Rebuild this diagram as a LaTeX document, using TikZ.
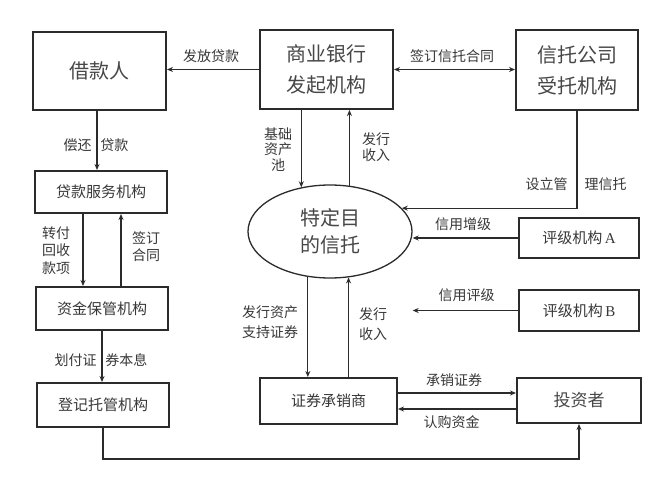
\documentclass[tikz,border=0pt]{standalone}
\usepackage{fontspec}
\setmainfont{Noto Sans CJK SC}
\newfontfamily\lat{Liberation Serif}
\usetikzlibrary{arrows.meta,shapes.geometric}
\definecolor{ink}{HTML}{2B2B2B}
\definecolor{txt}{HTML}{383838}
\definecolor{txtbig}{HTML}{474747}
\begin{document}
\begin{tikzpicture}[x=1pt,y=-1pt,
  >={Stealth[length=6pt,width=5pt]},
  box/.style={draw=ink, line width=2pt, text=txt, inner sep=0pt, align=center},
  arr/.style={draw=ink, line width=1.2pt, ->},
  arr2/.style={draw=ink, line width=1.2pt, <->},
  lbl/.style={text=txt, font=\fontsize{14}{16}\selectfont, align=center, inner sep=0pt},
  big/.style={font=\fontsize{20}{31}\selectfont, text=txtbig},
  mid/.style={font=\fontsize{15}{18}\selectfont}]
\useasboundingbox (0,0) rectangle (668,478);
\fill[white] (0,0) rectangle (668,478);
% helper coordinates
\coordinate (x83) at (83,0);
\coordinate (x121) at (121,0);
\coordinate (y393) at (0,393);
\coordinate (y409) at (0,409);
\coordinate (y459) at (0,459);
% boxes
\node[box,big,minimum width=133pt,minimum height=78pt] (jkr) at (99.5,71) {借款人};
\node[box,big,minimum width=133pt,minimum height=79pt] (bank) at (326.5,69.5) {商业银行\\发起机构};
\node[box,big,minimum width=122pt,minimum height=80pt] (trust) at (577,70) {信托公司\\受托机构};
\node[box,mid,minimum width=132pt,minimum height=42pt] (serv) at (101,192) {贷款服务机构};
\node[box,mid,minimum width=132pt,minimum height=43pt] (cust) at (102,308.5) {资金保管机构};
\node[box,mid,minimum width=132pt,minimum height=44pt] (reg) at (103,405) {登记托管机构};
\node[draw=ink, line width=1.3pt, ellipse, minimum width=164pt, minimum height=93pt,
      inner sep=0pt, text=txtbig, font=\fontsize{20}{27}\selectfont, align=center] (spv) at (330,231.5) {特定目\\的信托};
\node[box,mid,minimum width=120pt,minimum height=40pt] (ratA) at (579,238) {评级机构\,{\lat A}};
\node[box,mid,minimum width=120pt,minimum height=41pt] (ratB) at (579,310.5) {评级机构\,{\lat B}};
\node[box,mid,minimum width=137pt,minimum height=46pt] (uw) at (328.5,401) {证券承销商};
\node[box,font=\fontsize{17}{20}\selectfont,text=txtbig,minimum width=124pt,minimum height=45pt] (inv) at (579,400.5) {投资者};
% connectors
\draw[arr] (bank.west) -- (bank.west -| jkr.east);
\draw[arr2] (bank.east) -- (bank.east -| trust.west);
\draw[arr] ([xshift=-2.5pt]jkr.south) -- ([xshift=-2.5pt]jkr.south |- serv.north);
\draw[arr] (serv.south -| x83) -- (cust.north -| x83);
\draw[arr] (cust.north -| x121) -- (serv.south -| x121);
\draw[arr] (cust.south) -- (cust.south |- reg.north);
\draw[arr] (bank.south -| spv.123) -- (spv.123);
\draw[arr] (spv.67) -- (spv.67 |- bank.south);
\draw[arr] (trust.south) -- (trust.south |- spv.18) -- (spv.18);
\draw[arr] (ratA.west) -- (ratA.west -| spv.east);
\draw[arr] (ratB.west) -- (ratB.west -| spv.east);
\draw[arr] (spv.244) -- (spv.244 |- uw.north);
\draw[arr] (uw.north -| spv.292) -- (spv.292);
\draw[arr] (uw.east |- y393) -- (inv.west |- y393);
\draw[arr] (inv.west |- y409) -- (uw.east |- y409);
\draw[arr] (reg.south) -- (reg.south |- y459) -| (inv.south);
% labels
\node[lbl] (l1) at (211,56.5) {发放贷款};
\node[lbl] (l2) at (452,56.5) {签订信托合同};
\node[lbl] (l3) at (96,145) {偿还\hspace{9pt}贷款};
\node[lbl,font=\fontsize{14}{17.5}\selectfont] (l4) at (56,250.5) {转付\\回收\\款项};
\node[lbl,font=\fontsize{14}{17}\selectfont] (l5) at (146,246.5) {签订\\合同};
\node[lbl] (l6) at (101,360.5) {划付证\hspace{9pt}券本息};
\node[lbl,font=\fontsize{14}{15.5}\selectfont] (l7) at (278,149.5) {基础\\资产\\池};
\node[lbl] (l8) at (376,147.5) {发行\\收入};
\node[lbl] (l9) at (576,184.5) {设立管\hspace{17pt}理信托};
\node[lbl] (l10) at (463,224) {信用增级};
\node[lbl] (l11) at (466.5,295) {信用评级};
\node[lbl,font=\fontsize{14}{20}\selectfont] (l12) at (270,322.5) {发行资产\\支持证券};
\node[lbl,font=\fontsize{14}{20}\selectfont] (l13) at (373,324.5) {发行\\收入};
\node[lbl] (l14) at (454,380.5) {承销证券};
\node[lbl] (l15) at (451.5,422.5) {认购资金};
\end{tikzpicture}
\end{document}
